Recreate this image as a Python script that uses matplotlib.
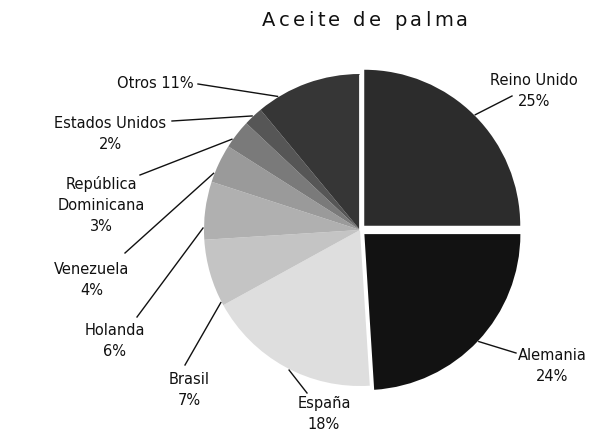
"""Pie chart: destinos de las exportaciones de aceite de palma."""

import numpy as np
import matplotlib

matplotlib.use("Agg")
from matplotlib import pyplot as plt
from matplotlib.font_manager import FontProperties

W, H = 589, 433

TITLE = "Aceite de palma"
COUNTRIES = [
    "Reino Unido",
    "Alemania",
    "España",
    "Brasil",
    "Holanda",
    "Venezuela",
    "República\nDominicana",
    "Estados Unidos",
    "Otros",
]
SHARES = [25, 24, 18, 7, 6, 4, 3, 2, 11]

# halftone greys of the print, approximated as flat tones
GREYS = ["#2c2c2c", "#121212", "#dedede", "#c4c4c4", "#b0b0b0",
         "#9a9a9a", "#7a7a7a", "#565656", "#363636"]
EXPLODE = [6, 6, 0, 0, 0, 0, 0, 0, 0]

# layout, in image pixels (y down)
CENTER = (360, 230)
RADIUS = 156
TEXT_POS = [(534, 91), (552, 366), (324, 414), (189, 390), (115, 341),
            (92, 280), (101, 205), (110, 134), (155, 84)]
LEADER_END = [(512, 96), (516, 353), (307, 393), (185, 365), (137, 317),
              (125, 253), (140, 175), (172, 121), (198, 84)]
# where along each wedge (0..1 from theta1) the leader leaves the rim
LEADER_FRAC = [0.5, 0.5, 0.53, 0.95, 0.8, 0.78, 0.73, 0.53, 0.8]

FONT = "DejaVu Sans"


def flip(pt):
    return pt[0], H - pt[1]


def spaced_title(fig, ax, text, x0, x1, y, size):
    """Draw a letter-spaced title between x0 and x1 (pixels)."""
    fp = FontProperties(family=FONT, size=size)
    renderer = fig.canvas.get_renderer()
    widths = []
    for ch in text:
        if ch == " ":
            w, _, _ = renderer.get_text_width_height_descent("a a", fp, ismath=False)
            wa, _, _ = renderer.get_text_width_height_descent("aa", fp, ismath=False)
            widths.append(w - wa)
        else:
            w, _, _ = renderer.get_text_width_height_descent(ch, fp, ismath=False)
            widths.append(w)
    gap = (x1 - x0 - sum(widths)) / (len(text) - 1)
    x = x0
    for ch, w in zip(text, widths):
        if ch != " ":
            ax.text(x, H - y, ch, fontproperties=fp, ha="left", va="center",
                    color="#111111")
        x += w + gap


fig = plt.figure(figsize=(W / 100, H / 100), dpi=100)
ax = fig.add_axes([0, 0, 1, 1])
ax.set_xlim(0, W)
ax.set_ylim(0, H)
ax.set_axis_off()

wedges, _ = ax.pie(
    SHARES,
    colors=GREYS,
    explode=EXPLODE,
    startangle=90,
    counterclock=False,
    center=flip(CENTER),
    radius=RADIUS,
    wedgeprops=dict(linewidth=0),
    frame=True,
)
ax.set_axis_off()
ax.set_xlim(0, W)
ax.set_ylim(0, H)
ax.set_aspect("equal")

# thin white seam between Otros and Estados Unidos
otros = wedges[-1]
ang = np.deg2rad(otros.theta1)
cx, cy = otros.center
ax.plot([cx, cx + RADIUS * np.cos(ang)], [cy, cy + RADIUS * np.sin(ang)],
        color="white", lw=2, solid_capstyle="butt")

for wedge, name, share, pos, end, frac in zip(
        wedges, COUNTRIES, SHARES, TEXT_POS, LEADER_END, LEADER_FRAC):
    theta = np.deg2rad(wedge.theta1 + frac * (wedge.theta2 - wedge.theta1))
    wx, wy = wedge.center
    start = (wx + (wedge.r + 1) * np.cos(theta), wy + (wedge.r + 1) * np.sin(theta))
    ex, ey = flip(end)
    ax.plot([start[0], ex], [start[1], ey], color="#111111", lw=1.0)
    if name == "Otros":
        label = f"{name} {share}%"
    else:
        label = f"{name}\n{share}%"
    tx, ty = flip(pos)
    ax.text(tx, ty, label, family=FONT, fontsize=10.5, ha="center", va="center",
            linespacing=1.5, color="#111111")

spaced_title(fig, ax, TITLE, 262, 468, 21, 14)

plt.savefig("out.png", dpi=100)
plt.close()
